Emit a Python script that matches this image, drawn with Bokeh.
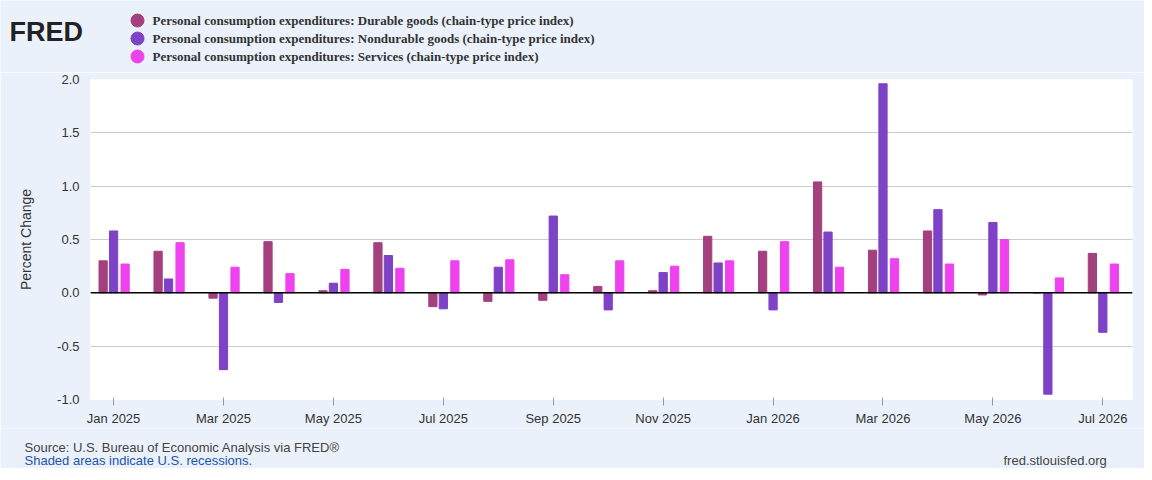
from bokeh.plotting import figure
from bokeh.models import FixedTicker, Span, NumeralTickFormatter, Range1d
from bokeh.layouts import column, row
from bokeh.core.properties import value
from bokeh.embed import file_html
from bokeh.resources import INLINE

months = ["Jan 2025","Feb 2025","Mar 2025","Apr 2025","May 2025","Jun 2025","Jul 2025","Aug 2025",
          "Sep 2025","Oct 2025","Nov 2025","Dec 2025","Jan 2026","Feb 2026","Mar 2026","Apr 2026",
          "May 2026","Jun 2026","Jul 2026"]
durable = [0.30,0.39,-0.05,0.48,0.02,0.47,-0.13,-0.08,-0.07,0.06,0.02,0.53,0.39,1.04,0.40,0.58,-0.02,0.0,0.37]
nondurable = [0.58,0.13,-0.72,-0.09,0.09,0.35,-0.15,0.24,0.72,-0.16,0.19,0.28,-0.16,0.57,1.96,0.78,0.66,-0.95,-0.37]
services = [0.27,0.47,0.24,0.18,0.22,0.23,0.30,0.31,0.17,0.30,0.25,0.30,0.48,0.24,0.32,0.27,0.50,0.14,0.27]
names = ["Personal consumption expenditures: Durable goods (chain-type price index)",
         "Personal consumption expenditures: Nondurable goods (chain-type price index)",
         "Personal consumption expenditures: Services (chain-type price index)"]
colors = ["#a4407e", "#7e42c6", "#ee42ee"]

BG = "#eaf1fa"
W = 1144

def panel(h):
    f = figure(width=W, height=h, output_backend="svg", toolbar_location=None,
               x_range=Range1d(0, W), y_range=Range1d(h, 0),
               background_fill_color=BG, border_fill_color=BG, min_border=0)
    f.axis.visible = False
    f.grid.visible = False
    f.outline_line_color = None
    return f

# header
head = panel(72)
head.text(x=[9], y=[31], text=["FRED"], text_font=value("Liberation Sans"), text_font_style="bold",
          text_font_size="27px", text_color="#222222", text_baseline="alphabetic")
head.scatter(x=[137, 137, 137], y=[20, 38, 56], size=13, color=colors)
head.text(x=[152] * 3, y=[20, 38, 56], text=names, text_font=value("Liberation Serif"),
          text_font_style="bold", text_font_size="13px", text_color="#333333", text_baseline="middle")

# main
x = list(range(len(months)))
p = figure(width=W, height=356, output_backend="svg", toolbar_location=None,
           x_range=(-0.42, len(months) - 0.46), y_range=(-1.0, 2.0),
           background_fill_color="white", border_fill_color=BG,
           min_border_left=90, min_border_right=12, min_border_top=7, min_border_bottom=22)
p.outline_line_color = None
for off, vals, c in zip([-0.19, 0, 0.21], [durable, nondurable, services], colors):
    p.vbar(x=[i + off for i in x], top=vals, bottom=0, width=0.15, color=c)
p.add_layout(Span(location=0, dimension="width", line_color="black", line_width=1.5))
p.xgrid.grid_line_color = None
p.ygrid.grid_line_color = "#cccccc"
p.yaxis.ticker = FixedTicker(ticks=[-1.0, -0.5, 0, 0.5, 1.0, 1.5, 2.0])
p.yaxis.formatter = NumeralTickFormatter(format="0.0")
p.xaxis.ticker = FixedTicker(ticks=x[::2])
p.xaxis.major_label_overrides = {i: months[i] for i in x}
for ax in (p.xaxis, p.yaxis):
    ax.major_label_text_font = "Liberation Sans"
    ax.major_label_text_font_size = "13px"
    ax.major_label_text_color = "#333333"
    ax.axis_line_color = None
    ax.minor_tick_line_color = None
p.yaxis.major_tick_line_color = None
p.xaxis.major_tick_line_color = "#999999"
p.yaxis.axis_label = "Percent Change"
p.yaxis.axis_label_standoff = 20
p.yaxis.axis_label_text_font = "Liberation Sans"
p.yaxis.axis_label_text_font_style = "normal"
p.yaxis.axis_label_text_font_size = "14px"
p.yaxis.axis_label_text_color = "#333333"

# footer
foot = panel(40)
foot.text(x=[24], y=[19], text=["Source: U.S. Bureau of Economic Analysis via FRED®"],
          text_font=value("Liberation Sans"), text_font_size="13px", text_color="#444444",
          text_baseline="alphabetic")
foot.text(x=[24], y=[32], text=["Shaded areas indicate U.S. recessions."],
          text_font=value("Liberation Sans"), text_font_size="13px", text_color="#2255aa",
          text_baseline="alphabetic")
foot.text(x=[1003], y=[32], text=["fred.stlouisfed.org"],
          text_font=value("Liberation Sans"), text_font_size="13px", text_color="#444444",
          text_baseline="alphabetic")

lay = column(row(head), p, row(foot), spacing=0)
open("out.html", "w").write(file_html(lay, INLINE))
